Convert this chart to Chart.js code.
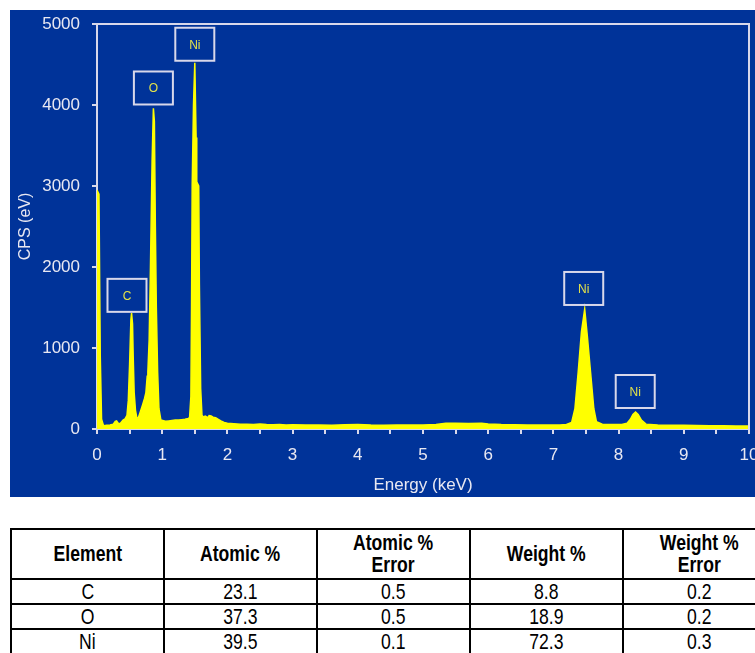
<!DOCTYPE html>
<html>
<head>
<meta charset="utf-8">
<script src="https://cdn.jsdelivr.net/npm/chart.js@4.4.1/dist/chart.umd.min.js"></script>
<style>
  html, body { margin: 0; padding: 0; background: #fff; }
  body { width: 755px; height: 653px; overflow: hidden; position: relative; }
  #wrap { position: absolute; left: 10px; top: 10px; width: 745px; height: 487px; }
  table {
    position: absolute; left: 10px; top: 528px;
    border-collapse: collapse; table-layout: fixed; width: 757px;
    font-family: "Liberation Sans", Arial, sans-serif;
    font-size: 22px; color: #000;
  }
  td, th { border: 2px solid #000; text-align: center; padding: 0; width: 151px; }
  th { font-weight: bold; height: 48px; line-height: 22px; }
  td { height: 23px; line-height: 22px; }
  .nar { display: inline-block; transform: scaleX(0.8); white-space: nowrap; }
</style>
</head>
<body>
<div id="wrap"><canvas id="edsChart"></canvas></div>

<table id="resultTable">
  <thead><tr id="headRow"></tr></thead>
  <tbody id="bodyRows"></tbody>
</table>

<script>
// 스펙트럼 데이터 (keV, CPS)
const energy = [
  0.00, 0.03, 0.05, 0.07, 0.10, 0.15, 0.20, 0.25, 0.28, 0.30, 0.33, 0.36, 0.40, 0.43, 0.46,
  0.48, 0.50, 0.52, 0.53, 0.545, 0.555, 0.57, 0.59, 0.61, 0.63, 0.66, 0.70, 0.73, 0.75, 0.77,
  0.78, 0.80, 0.82, 0.845, 0.865, 0.88, 0.895, 0.91, 0.93, 0.95, 0.98, 1.05, 1.10, 1.15, 1.20,
  1.25, 1.30, 1.35, 1.40, 1.42, 1.44, 1.45, 1.46, 1.48, 1.50, 1.52, 1.53, 1.56, 1.57, 1.59,
  1.61, 1.63, 1.66, 1.70, 1.72, 1.75, 1.78, 1.82, 1.86, 1.90, 1.95, 2.00, 2.10, 2.20, 2.30,
  2.40, 2.50, 2.60, 2.70, 2.80, 2.90, 3.00, 3.20, 3.40, 3.60, 3.80, 4.00, 4.20, 4.40, 4.60,
  4.80, 5.00, 5.20, 5.35, 5.50, 5.70, 5.90, 6.00, 6.20, 6.40, 6.60, 6.80, 7.00, 7.10, 7.20,
  7.28, 7.33, 7.38, 7.43, 7.48, 7.52, 7.57, 7.62, 7.66, 7.75, 7.90, 8.05, 8.13, 8.18, 8.22,
  8.26, 8.30, 8.35, 8.42, 8.60, 8.80, 9.00, 9.20, 9.40, 9.60, 9.80, 10.00
];
const cps = [
  2950, 2900, 900, 120, 40, 45, 50, 60, 95, 100, 65, 70, 110, 125, 170,
  350, 800, 1350, 1430, 1300, 900, 450, 230, 140, 130, 200, 300, 380, 450, 650,
  700, 1100, 2000, 3300, 3960, 3800, 2500, 1500, 700, 250, 110, 95, 100, 105, 110,
  110, 115, 120, 130, 140, 400, 1500, 3000, 4000, 4520, 3600, 3050, 3000, 1800, 500,
  170, 150, 160, 140, 165, 160, 145, 140, 120, 100, 80, 70, 65, 60, 58,
  55, 62, 55, 52, 55, 50, 52, 48, 50, 46, 52, 55, 48, 46, 50,
  48, 50, 55, 70, 72, 68, 70, 62, 55, 52, 50, 50, 48, 50, 55,
  80, 250, 700, 1200, 1480, 1150, 700, 250, 90, 60, 55, 55, 70, 120, 180,
  210, 180, 110, 60, 50, 45, 45, 42, 40, 40, 38, 38
];

// 피크 라벨 (라벨 박스 중심 위치, 데이터 좌표)
const peakNames = ['C', 'O', 'Ni', 'Ni', 'Ni'];
const peakBoxX = [0.46, 0.865, 1.50, 7.465, 8.255];
const peakBoxY = [1650, 4210, 4750, 1735, 463];

// 표 데이터
const tableHeaders = ['Element', 'Atomic %', 'Atomic %<br>Error', 'Weight %', 'Weight %<br>Error'];
const elements = ['C', 'O', 'Ni'];
const atomicPct = ['23.1', '37.3', '39.5'];
const atomicErr = ['0.5', '0.5', '0.1'];
const weightPct = ['8.8', '18.9', '72.3'];
const weightErr = ['0.2', '0.2', '0.3'];

const BLUE = '#003399';
const AXIS = '#d8d8ea';
const TEXT = '#e8e8f2';
const FONT = "'Liberation Sans', Arial, sans-serif";

const nar = s => `<span class="nar">${s}</span>`;
document.getElementById('headRow').innerHTML = tableHeaders.map(h => `<th>${nar(h)}</th>`).join('');
document.getElementById('bodyRows').innerHTML = elements.map((el, i) =>
  '<tr>' + [el, atomicPct[i], atomicErr[i], weightPct[i], weightErr[i]].map(v => `<td>${nar(v)}</td>`).join('') + '</tr>'
).join('');

// 배경 + 위/오른쪽 테두리
const framePlugin = {
  id: 'frame',
  beforeDraw(chart) {
    const ctx = chart.ctx;
    ctx.save();
    ctx.fillStyle = BLUE;
    ctx.fillRect(0, 0, chart.width, chart.height);
    ctx.restore();
  },
  afterDraw(chart) {
    const { ctx, chartArea: a } = chart;
    ctx.save();
    ctx.strokeStyle = AXIS;
    ctx.lineWidth = 2;
    ctx.beginPath();
    ctx.moveTo(a.left, a.top);
    ctx.lineTo(a.right, a.top);
    ctx.lineTo(a.right, a.bottom);
    ctx.stroke();
    ctx.restore();
  }
};

// 피크 라벨 박스
const peakLabelPlugin = {
  id: 'peakLabels',
  afterDatasetsDraw(chart) {
    const { ctx, scales: { x, y } } = chart;
    ctx.save();
    peakNames.forEach((name, i) => {
      const cx = x.getPixelForValue(peakBoxX[i]);
      const cy = y.getPixelForValue(peakBoxY[i]);
      ctx.strokeStyle = AXIS;
      ctx.lineWidth = 2;
      ctx.strokeRect(cx - 19.5, cy - 16.5, 39, 33);
      ctx.fillStyle = '#e2e24a';
      ctx.font = `12px ${FONT}`;
      ctx.textAlign = 'center';
      ctx.textBaseline = 'middle';
      ctx.fillText(name, cx, cy + 1);
    });
    ctx.restore();
  }
};

new Chart(document.getElementById('edsChart'), {
  type: 'line',
  data: {
    datasets: [{
      data: energy.map((e, i) => ({ x: e, y: cps[i] })),
      borderColor: '#ffff00',
      backgroundColor: '#ffff00',
      borderWidth: 1.5,
      pointRadius: 0,
      fill: 'origin',
      tension: 0
    }]
  },
  options: {
    responsive: true,
    maintainAspectRatio: false,
    animation: false,
    layout: { padding: { top: 14, right: 6, left: 0, bottom: 0 } },
    plugins: { legend: { display: false }, tooltip: { enabled: false } },
    scales: {
      x: {
        type: 'linear',
        min: 0,
        max: 10,
        afterFit: s => { s.height = 68; s.paddingLeft = 0; s.paddingRight = 0; },
        ticks: {
          stepSize: 0.5,
          autoSkip: false,
          maxRotation: 0,
          color: TEXT,
          padding: 11,
          font: { family: FONT, size: 17 },
          callback: v => Number.isInteger(v) ? String(v) : ''
        },
        grid: { drawOnChartArea: false, drawTicks: true, tickLength: 5, color: AXIS, lineWidth: 2 },
        border: { display: true, color: AXIS, width: 2 },
        title: {
          display: true,
          text: 'Energy (keV)',
          color: TEXT,
          font: { family: FONT, size: 17 },
          padding: { top: 0, bottom: 1 }
        }
      },
      y: {
        min: 0,
        max: 5000,
        afterFit: s => { s.width = 87; s.paddingTop = 0; s.paddingBottom = 0; },
        ticks: {
          stepSize: 1000,
          color: TEXT,
          padding: 12,
          font: { family: FONT, size: 17 },
          callback: v => String(v)
        },
        grid: { drawOnChartArea: false, drawTicks: true, tickLength: 5, color: AXIS, lineWidth: 2 },
        border: { display: true, color: AXIS, width: 2 },
        title: {
          display: true,
          text: 'CPS (eV)',
          color: TEXT,
          font: { family: FONT, size: 16 },
          padding: { top: 6, bottom: 0 }
        }
      }
    }
  },
  plugins: [framePlugin, peakLabelPlugin]
});
</script>
</body>
</html>
